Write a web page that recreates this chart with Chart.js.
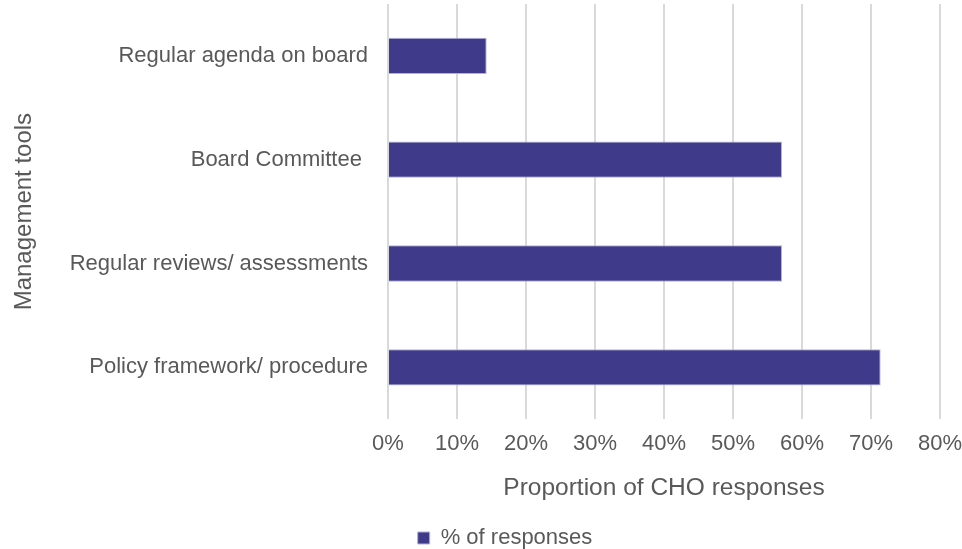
<!DOCTYPE html>
<html>
<head>
<meta charset="utf-8">
<script src="https://cdn.jsdelivr.net/npm/chart.js@4/dist/chart.umd.min.js"></script>
<style>
  html, body { margin: 0; padding: 0; background: #fff; }
  #wrap { width: 962px; height: 549px; position: relative; }
</style>
</head>
<body>
<div id="wrap"><canvas id="chart"></canvas></div>
<script>
// management tools reported by CHOs (share of responses)
const tools = [
  'Regular agenda on board',
  'Board Committee ',
  'Regular reviews/ assessments',
  'Policy framework/ procedure'
]
const responses = [14.3, 57.1, 57.1, 71.4]
const xTicks = [0, 10, 20, 30, 40, 50, 60, 70, 80]

const textColor = '#595959'
const font = 'Liberation Sans, Arial, sans-serif'

// nudge the legend right and down, under the plot area
const legendShift = {
  id: 'legendShift',
  afterLayout(chart) {
    let lg = chart.legend
    if (lg) {
      lg.left += 30
      lg.right += 30
      lg.top += 10
      lg.bottom += 10
    }
  }
}

let ctx = document.getElementById('chart')

new Chart(ctx, {
  type: 'bar',
  data: {
    labels: tools,
    datasets: [{
      label: '% of responses',
      data: responses,
      backgroundColor: '#3f3a8a',
      borderColor: '#b3b0d9',
      borderWidth: 1,
      categoryPercentage: 1,
      barPercentage: 0.35
    }]
  },
  plugins: [legendShift],
  options: {
    indexAxis: 'y',
    responsive: true,
    maintainAspectRatio: false,
    animation: false,
    layout: { padding: { top: 4, right: 22, left: 10, bottom: 0 } },
    scales: {
      x: {
        min: 0,
        max: 80,
        afterBuildTicks: (scale) => { scale.ticks = xTicks.map(v => ({ value: v })) },
        afterFit: (scale) => {
          scale.paddingLeft = 0
          scale.paddingRight = 22
        },
        grid: { color: '#d9d9d9', lineWidth: 2, drawTicks: false },
        border: { display: false },
        ticks: {
          color: textColor,
          font: { family: font, size: 22 },
          padding: 12,
          callback: (v) => v + '%'
        },
        title: {
          display: true,
          text: 'Proportion of CHO responses',
          color: textColor,
          font: { family: font, size: 24.5 },
          padding: { top: 4, bottom: 12 }
        }
      },
      y: {
        grid: { display: false, drawTicks: false },
        border: { display: false },
        afterFit: (scale) => {
          scale.width = 378
          scale.paddingTop = 0
          scale.paddingBottom = 0
        },
        ticks: {
          color: textColor,
          font: { family: font, size: 22 },
          padding: 20
        },
        title: {
          display: true,
          text: 'Management tools',
          color: textColor,
          font: { family: font, size: 24 },
          padding: 0
        }
      }
    },
    plugins: {
      tooltip: { enabled: false },
      legend: {
        position: 'bottom',
        labels: {
          color: textColor,
          font: { family: font, size: 22 },
          boxWidth: 12,
          boxHeight: 12,
          padding: 2
        }
      }
    }
  }
})
</script>
</body>
</html>
